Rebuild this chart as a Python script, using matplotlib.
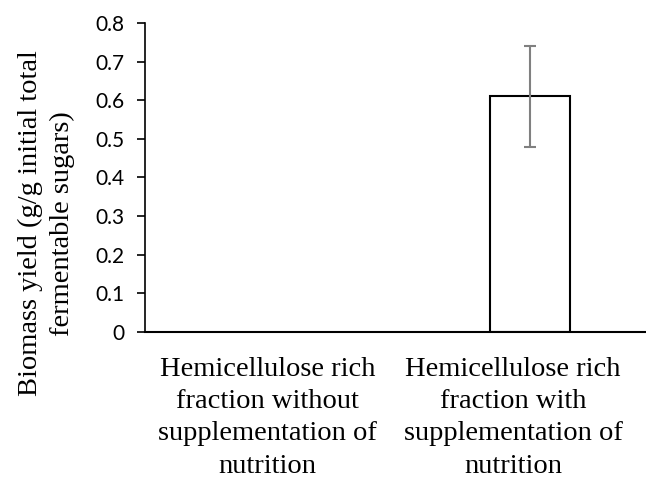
import matplotlib
matplotlib.use('Agg')
import numpy as np
import matplotlib.pyplot as plt
from matplotlib.transforms import ScaledTranslation

categories = ['Hemicellulose rich\nfraction without\nsupplementation of\nnutrition',
              'Hemicellulose rich\nfraction with\nsupplementation of\nnutrition']
yields = [0.0, 0.61]
err_low = [0.0, 0.13]
err_high = [0.0, 0.13]
yticks = [0, 0.1, 0.2, 0.3, 0.4, 0.5, 0.6, 0.7, 0.8]

fig = plt.figure(figsize=(6.46, 4.79), dpi=100)
ax = fig.add_axes([0.2245, 0.307, 0.795, 0.645])

x = np.arange(len(categories))
ax.bar(x[1:], yields[1:], width=0.31, color='white', edgecolor='black', linewidth=1.5, zorder=2)
ax.errorbar(x[1:], yields[1:], yerr=[err_low[1:], err_high[1:]], fmt='none',
            ecolor='#808080', elinewidth=1.5, capsize=4.5, capthick=1.5, zorder=3)

ax.set_xlim(-0.5, 1.5)
ax.set_ylim(0, 0.8)
ax.set_yticks(yticks)
ax.set_yticklabels([f'{v:g}' for v in yticks], fontfamily='Lato', fontsize=15)
ax.set_xticks(x)
ax.set_xticklabels(categories, fontfamily='Liberation Serif', fontsize=20.5, linespacing=1.38)
ax.tick_params(axis='x', length=0, pad=18)
ax.tick_params(axis='y', direction='out', length=6, width=1.2, pad=9)
for s in ['top', 'right']:
    ax.spines[s].set_visible(False)
ax.spines['left'].set_linewidth(1.2)
ax.spines['bottom'].set_linewidth(1.5)

# shift category labels slightly left, as in the original
for lbl, dx in zip(ax.get_xticklabels(), [-6, -17]):
    lbl.set_transform(lbl.get_transform() + ScaledTranslation(dx / 100, 0, fig.dpi_scale_trans))

fig.text(0.072, 0.534, 'Biomass yield (g/g initial total\nfermentable sugars)', rotation=90,
         ha='center', va='center', fontfamily='Liberation Serif', fontsize=20.5, linespacing=1.38)

fig.savefig('out.png', dpi=100)
